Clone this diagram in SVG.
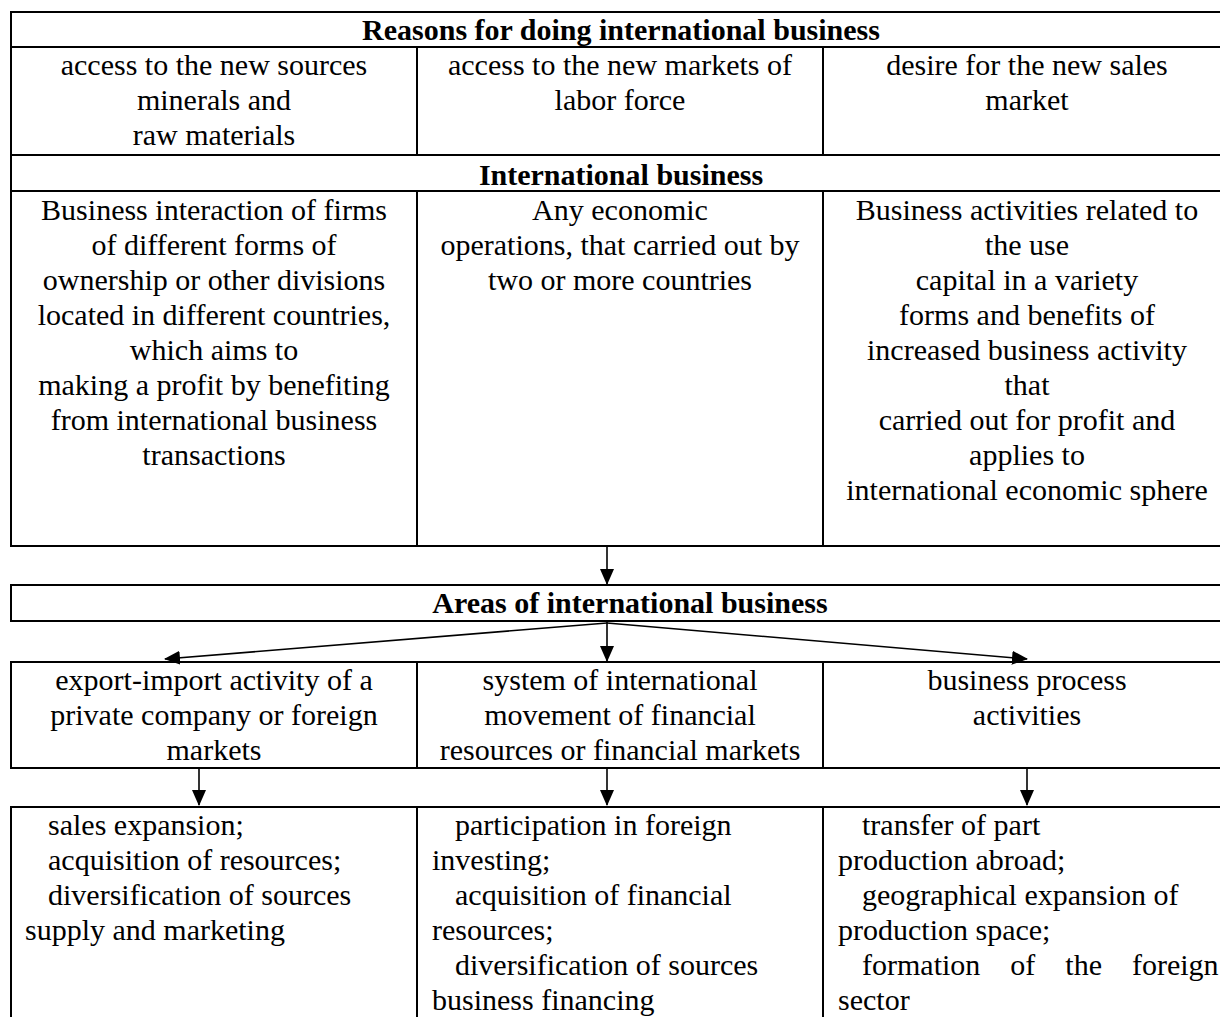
<svg xmlns="http://www.w3.org/2000/svg" width="1220" height="1017" viewBox="0 0 1220 1017">
<style>
.cell{fill:#fff;stroke:#000;stroke-width:2}
.t{font-family:"Liberation Serif","Times New Roman",serif;font-size:30px;fill:#000}
.c{text-anchor:middle}
.b{font-weight:bold}
.conn{stroke:#000;stroke-width:1.6;fill:none}
</style>
<defs>
<marker id="ah" markerUnits="userSpaceOnUse" markerWidth="16" markerHeight="14" viewBox="0 0 16 14" refX="15" refY="7" orient="auto">
<path d="M0,0 L16,7 L0,14 Z" fill="#000"/>
</marker>
</defs>
<rect width="1220" height="1017" fill="#fff"/>

<g id="header-reasons">
<rect class="cell" x="11" y="12" width="1222" height="35"/>
<text class="t c b" x="621" y="40">Reasons for doing international business</text>
</g>
<g id="reason-1">
<rect class="cell" x="11" y="47" width="406" height="108"/>
<text class="t c" x="214" y="75">access to the new sources</text>
<text class="t c" x="214" y="110">minerals and</text>
<text class="t c" x="214" y="145">raw materials</text>
</g>
<g id="reason-2">
<rect class="cell" x="417" y="47" width="406" height="108"/>
<text class="t c" x="620" y="75">access to the new markets of</text>
<text class="t c" x="620" y="110">labor force</text>
</g>
<g id="reason-3">
<rect class="cell" x="823" y="47" width="410" height="108"/>
<text class="t c" x="1027" y="75">desire for the new sales</text>
<text class="t c" x="1027" y="110">market</text>
</g>

<g id="header-ib">
<rect class="cell" x="11" y="155" width="1222" height="36"/>
<text class="t c b" x="621" y="185">International business</text>
</g>
<g id="ib-def-1">
<rect class="cell" x="11" y="191" width="406" height="355"/>
<text class="t c" x="214" y="220">Business interaction of firms</text>
<text class="t c" x="214" y="255">of different forms of</text>
<text class="t c" x="214" y="290">ownership or other divisions</text>
<text class="t c" x="214" y="325">located in different countries,</text>
<text class="t c" x="214" y="360">which aims to</text>
<text class="t c" x="214" y="395">making a profit by benefiting</text>
<text class="t c" x="214" y="430">from international business</text>
<text class="t c" x="214" y="465">transactions</text>
</g>
<g id="ib-def-2">
<rect class="cell" x="417" y="191" width="406" height="355"/>
<text class="t c" x="620" y="220">Any economic</text>
<text class="t c" x="620" y="255">operations, that carried out by</text>
<text class="t c" x="620" y="290">two or more countries</text>
</g>
<g id="ib-def-3">
<rect class="cell" x="823" y="191" width="410" height="355"/>
<text class="t c" x="1027" y="220">Business activities related to</text>
<text class="t c" x="1027" y="255">the use</text>
<text class="t c" x="1027" y="290">capital in a variety</text>
<text class="t c" x="1027" y="325">forms and benefits of</text>
<text class="t c" x="1027" y="360">increased business activity</text>
<text class="t c" x="1027" y="395">that</text>
<text class="t c" x="1027" y="430">carried out for profit and</text>
<text class="t c" x="1027" y="465">applies to</text>
<text class="t c" x="1027" y="500">international economic sphere</text>
</g>

<g id="areas-header">
<rect class="cell" x="11" y="585" width="1222" height="36"/>
<text class="t c b" x="630" y="613">Areas of international business</text>
</g>
<g id="area-1">
<rect class="cell" x="11" y="662" width="406" height="106"/>
<text class="t c" x="214" y="690">export-import activity of a</text>
<text class="t c" x="214" y="725">private company or foreign</text>
<text class="t c" x="214" y="760">markets</text>
</g>
<g id="area-2">
<rect class="cell" x="417" y="662" width="406" height="106"/>
<text class="t c" x="620" y="690">system of international</text>
<text class="t c" x="620" y="725">movement of financial</text>
<text class="t c" x="620" y="760">resources or financial markets</text>
</g>
<g id="area-3">
<rect class="cell" x="823" y="662" width="410" height="106"/>
<text class="t c" x="1027" y="690">business process</text>
<text class="t c" x="1027" y="725">activities</text>
</g>

<g id="goals-1">
<rect class="cell" x="11" y="807" width="406" height="240"/>
<text class="t" x="48" y="835">sales expansion;</text>
<text class="t" x="48" y="870">acquisition of resources;</text>
<text class="t" x="48" y="905">diversification of sources</text>
<text class="t" x="25" y="940">supply and marketing</text>
</g>
<g id="goals-2">
<rect class="cell" x="417" y="807" width="406" height="240"/>
<text class="t" x="455" y="835">participation in foreign</text>
<text class="t" x="432" y="870">investing;</text>
<text class="t" x="455" y="905">acquisition of financial</text>
<text class="t" x="432" y="940">resources;</text>
<text class="t" x="455" y="975">diversification of sources</text>
<text class="t" x="432" y="1010">business financing</text>
</g>
<g id="goals-3">
<rect class="cell" x="823" y="807" width="410" height="240"/>
<text class="t" x="862" y="835">transfer of part</text>
<text class="t" x="838" y="870">production abroad;</text>
<text class="t" x="862" y="905">geographical expansion of</text>
<text class="t" x="838" y="940">production space;</text>
<text class="t" x="862" y="975" word-spacing="22.5">formation of the foreign</text>
<text class="t" x="838" y="1010">sector</text>
</g>

<g id="connectors">
<line class="conn" x1="607" y1="547" x2="607" y2="584" marker-end="url(#ah)"/>
<line class="conn" x1="607" y1="622" x2="607" y2="661" marker-end="url(#ah)"/>
<line class="conn" x1="607" y1="623" x2="165" y2="659" marker-end="url(#ah)"/>
<line class="conn" x1="607" y1="623" x2="1027" y2="659" marker-end="url(#ah)"/>
<line class="conn" x1="199" y1="769" x2="199" y2="805" marker-end="url(#ah)"/>
<line class="conn" x1="607" y1="769" x2="607" y2="805" marker-end="url(#ah)"/>
<line class="conn" x1="1027" y1="769" x2="1027" y2="805" marker-end="url(#ah)"/>
</g>
</svg>
